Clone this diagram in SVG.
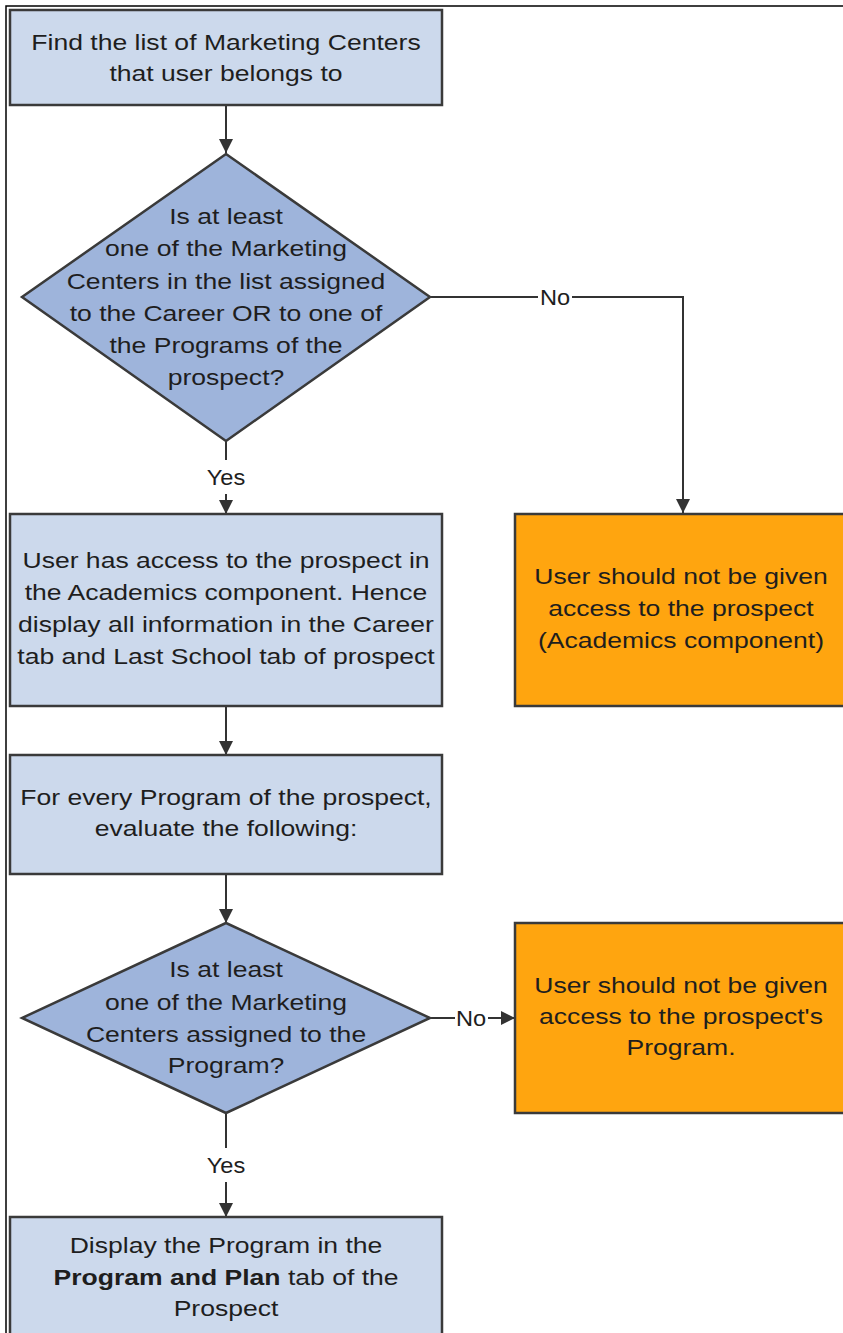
<svg xmlns="http://www.w3.org/2000/svg" width="843" height="1333" viewBox="0 0 843 1333">
<style>
.box{fill:#ccd9ec;stroke:#3a3a3a;stroke-width:2.5}
.dia{fill:#9eb4db;stroke:#3a3a3a;stroke-width:2.5}
.org{fill:#ffa50f;stroke:#3a3a3a;stroke-width:2.5}
.t{font-family:"Liberation Sans",Arial,sans-serif;font-size:22.5px;fill:#1e1e1e;text-anchor:middle}
.c{fill:none;stroke:#333;stroke-width:2}
.lbl{fill:#fff}
</style>
<defs>
<marker id="ah" viewBox="0 0 14 14" refX="14" refY="7" markerWidth="14" markerHeight="14" markerUnits="userSpaceOnUse" orient="auto">
<path d="M0,0 L14,7 L0,14 z" fill="#333"/>
</marker>
</defs>
<rect width="843" height="1333" fill="#fff"/>
<path d="M6,1333 V6 H843" fill="none" stroke="#000" stroke-width="1.5"/>

<g id="connectors">
<line class="c" x1="226" y1="106" x2="226" y2="153" marker-end="url(#ah)"/>
<path class="c" d="M430,297 H683 V513" marker-end="url(#ah)"/>
<line class="c" x1="226" y1="441" x2="226" y2="514" marker-end="url(#ah)"/>
<line class="c" x1="226" y1="707" x2="226" y2="755" marker-end="url(#ah)"/>
<line class="c" x1="226" y1="875" x2="226" y2="923" marker-end="url(#ah)"/>
<line class="c" x1="430" y1="1018" x2="515" y2="1018" marker-end="url(#ah)"/>
<line class="c" x1="226" y1="1113" x2="226" y2="1217" marker-end="url(#ah)"/>
<rect class="lbl" x="538" y="285" width="34" height="24"/>
<rect class="lbl" x="202" y="460" width="48" height="34"/>
<rect class="lbl" x="455" y="1006" width="33" height="24"/>
<rect class="lbl" x="202" y="1148" width="48" height="34"/>
<g transform="matrix(1.05 0 0 1 555 0)"><text class="t" x="0" y="305">No</text></g>
<g transform="matrix(1.05 0 0 1 226 0)"><text class="t" x="0" y="485">Yes</text></g>
<g transform="matrix(1.05 0 0 1 471 0)"><text class="t" x="0" y="1026">No</text></g>
<g transform="matrix(1.05 0 0 1 226 0)"><text class="t" x="0" y="1173">Yes</text></g>
</g>

<g id="n1">
<rect class="box" x="10" y="10" width="432" height="95"/>
<g transform="matrix(1.18 0 0 1 226 0)">
<text class="t" x="0" y="50">Find the list of Marketing Centers</text>
<text class="t" x="0" y="81">that user belongs to</text>
</g>
</g>

<g id="d1">
<polygon class="dia" points="226,154 430,297 226,441 22,297"/>
<g transform="matrix(1.18 0 0 1 226 0)">
<text class="t" x="0" y="224">Is at least</text>
<text class="t" x="0" y="256">one of the Marketing</text>
<text class="t" x="0" y="289">Centers in the list assigned</text>
<text class="t" x="0" y="321">to the Career OR to one of</text>
<text class="t" x="0" y="353">the Programs of the</text>
<text class="t" x="0" y="385">prospect?</text>
</g>
</g>

<g id="n2">
<rect class="box" x="10" y="514" width="432" height="192"/>
<g transform="matrix(1.18 0 0 1 226 0)">
<text class="t" x="0" y="568">User has access to the prospect in</text>
<text class="t" x="0" y="600">the Academics component. Hence</text>
<text class="t" x="0" y="632">display all information in the Career</text>
<text class="t" x="0" y="664">tab and Last School tab of prospect</text>
</g>
</g>

<g id="o1">
<rect class="org" x="515" y="514" width="340" height="192"/>
<g transform="matrix(1.18 0 0 1 681 0)">
<text class="t" x="0" y="584">User should not be given</text>
<text class="t" x="0" y="616">access to the prospect</text>
<text class="t" x="0" y="648">(Academics component)</text>
</g>
</g>

<g id="n3">
<rect class="box" x="10" y="755" width="432" height="119"/>
<g transform="matrix(1.18 0 0 1 226 0)">
<text class="t" x="0" y="805">For every Program of the prospect,</text>
<text class="t" x="0" y="836">evaluate the following:</text>
</g>
</g>

<g id="d2">
<polygon class="dia" points="226,923 430,1018 226,1113 22,1018"/>
<g transform="matrix(1.18 0 0 1 226 0)">
<text class="t" x="0" y="977">Is at least</text>
<text class="t" x="0" y="1010">one of the Marketing</text>
<text class="t" x="0" y="1042">Centers assigned to the</text>
<text class="t" x="0" y="1073">Program?</text>
</g>
</g>

<g id="o2">
<rect class="org" x="515" y="923" width="340" height="190"/>
<g transform="matrix(1.18 0 0 1 681 0)">
<text class="t" x="0" y="993">User should not be given</text>
<text class="t" x="0" y="1024">access to the prospect's</text>
<text class="t" x="0" y="1055">Program.</text>
</g>
</g>

<g id="n4">
<rect class="box" x="10" y="1217" width="432" height="130"/>
<g transform="matrix(1.18 0 0 1 226 0)">
<text class="t" x="0" y="1253">Display the Program in the</text>
<text class="t" x="0" y="1285"><tspan font-weight="bold">Program and Plan</tspan> tab of the</text>
<text class="t" x="0" y="1316">Prospect</text>
</g>
</g>
</svg>
